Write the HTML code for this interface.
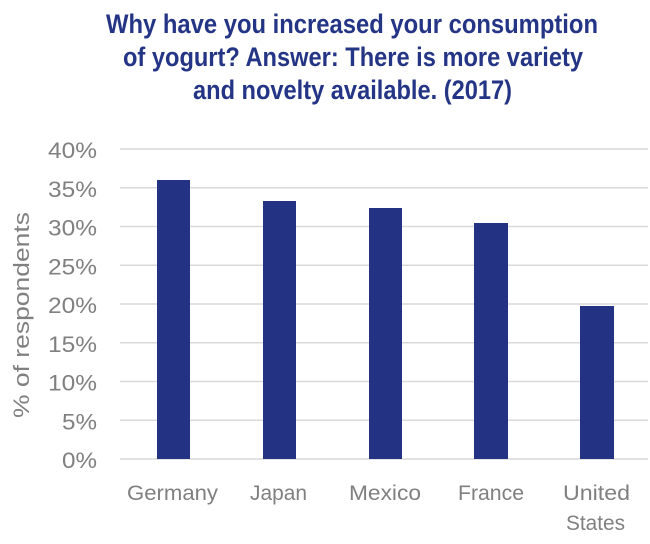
<!DOCTYPE html>
<html>
<head>
<meta charset="utf-8">
<style>
html,body{margin:0;padding:0;background:#fff;}
svg{display:block;}
</style>
</head>
<body>
<svg width="650" height="544" viewBox="0 0 650 544" xmlns="http://www.w3.org/2000/svg">
<rect width="650" height="544" fill="#fff"/>
<g font-family="'Liberation Sans Narrow','Liberation Sans',sans-serif" font-weight="bold" font-size="27" fill="#253586">
<text x="106" y="33" textLength="492" lengthAdjust="spacingAndGlyphs">Why have you increased your consumption</text>
<text x="123" y="66" textLength="460" lengthAdjust="spacingAndGlyphs">of yogurt? Answer: There is more variety</text>
<text x="193" y="99" textLength="319" lengthAdjust="spacingAndGlyphs">and novelty available. (2017)</text>
</g>
<g stroke="#d9d9d9" stroke-width="1.6">
<line x1="120" x2="648" y1="149" y2="149"/>
<line x1="120" x2="648" y1="187.75" y2="187.75"/>
<line x1="120" x2="648" y1="226.5" y2="226.5"/>
<line x1="120" x2="648" y1="265.25" y2="265.25"/>
<line x1="120" x2="648" y1="304" y2="304"/>
<line x1="120" x2="648" y1="342.75" y2="342.75"/>
<line x1="120" x2="648" y1="381.5" y2="381.5"/>
<line x1="120" x2="648" y1="420.25" y2="420.25"/>
<line x1="120" x2="648" y1="459" y2="459"/>
</g>
<g fill="#233283">
<rect x="157" y="180" width="33" height="279"/>
<rect x="263" y="201" width="33" height="258"/>
<rect x="369" y="208" width="33" height="251"/>
<rect x="474" y="223" width="34" height="236"/>
<rect x="580" y="306" width="34" height="153"/>
</g>
<g font-family="'Liberation Sans',sans-serif" font-size="22" fill="#808080">
<text x="48" y="158" textLength="49" lengthAdjust="spacingAndGlyphs">40%</text>
<text x="48" y="196.75" textLength="49" lengthAdjust="spacingAndGlyphs">35%</text>
<text x="48" y="235.5" textLength="49" lengthAdjust="spacingAndGlyphs">30%</text>
<text x="48" y="274.25" textLength="49" lengthAdjust="spacingAndGlyphs">25%</text>
<text x="48" y="313" textLength="49" lengthAdjust="spacingAndGlyphs">20%</text>
<text x="48" y="351.75" textLength="49" lengthAdjust="spacingAndGlyphs">15%</text>
<text x="48" y="390.5" textLength="49" lengthAdjust="spacingAndGlyphs">10%</text>
<text x="62" y="429.25" textLength="35" lengthAdjust="spacingAndGlyphs">5%</text>
<text x="62" y="468" textLength="35" lengthAdjust="spacingAndGlyphs">0%</text>
</g>
<g font-family="'Liberation Sans',sans-serif" font-size="21" fill="#808080">
<text x="127" y="500" textLength="91" lengthAdjust="spacingAndGlyphs">Germany</text>
<text x="250" y="500" textLength="57" lengthAdjust="spacingAndGlyphs">Japan</text>
<text x="349" y="500" textLength="72" lengthAdjust="spacingAndGlyphs">Mexico</text>
<text x="458" y="500" textLength="66" lengthAdjust="spacingAndGlyphs">France</text>
<text x="563" y="500" textLength="67" lengthAdjust="spacingAndGlyphs">United</text>
<text x="566" y="530" textLength="59" lengthAdjust="spacingAndGlyphs">States</text>
</g>
<text transform="translate(29,315) rotate(-90)" font-family="'Liberation Sans',sans-serif" font-size="22" fill="#808080" text-anchor="middle" textLength="206" lengthAdjust="spacingAndGlyphs">% of respondents</text>
</svg>
</body>
</html>
